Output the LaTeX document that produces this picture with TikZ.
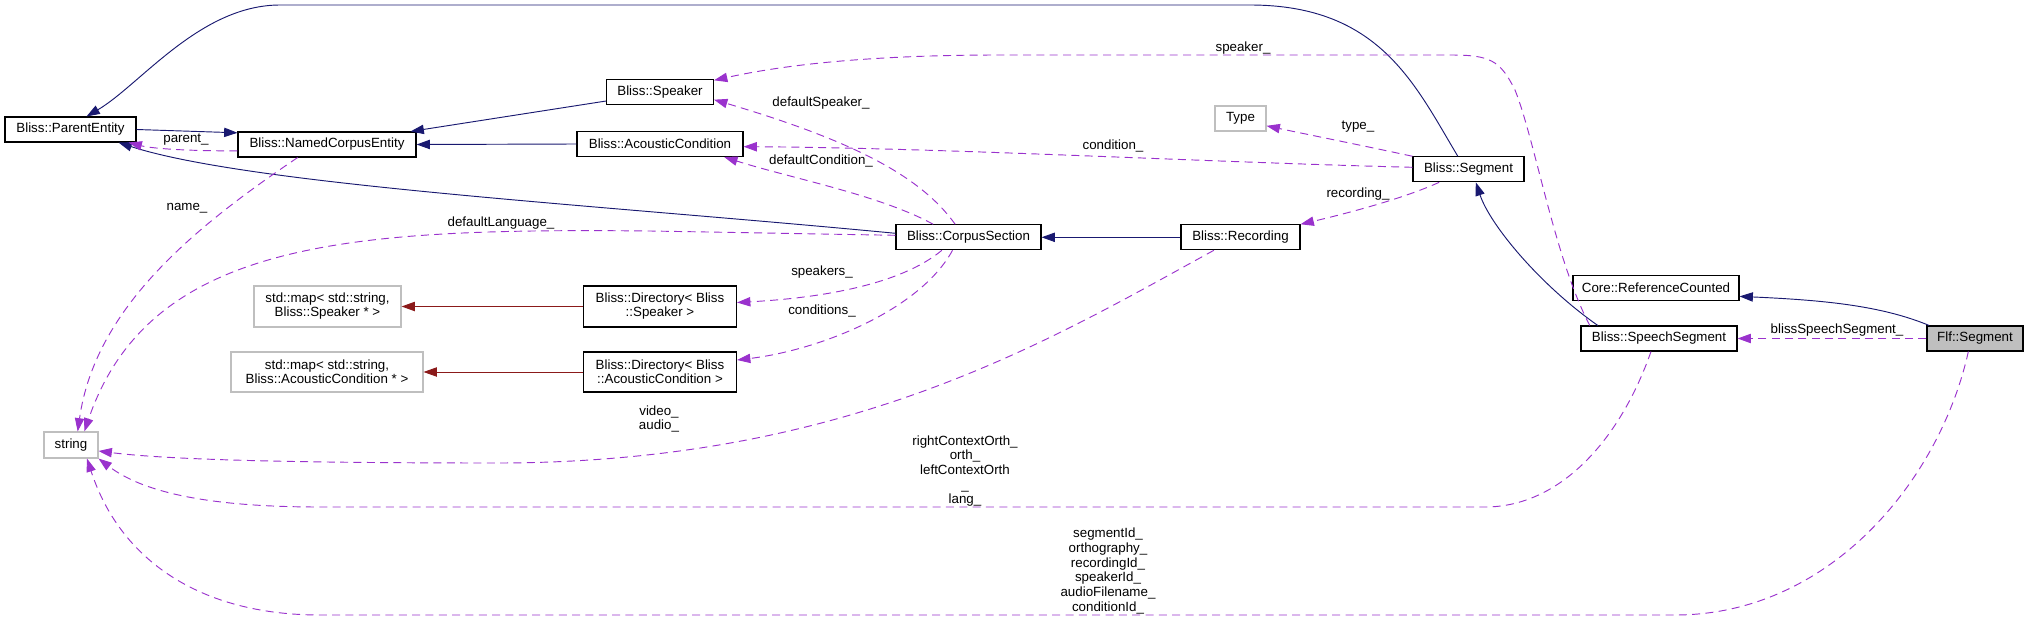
\documentclass[tikz,border=0pt]{standalone}
\usepackage{fontspec}
\setmainfont{Liberation Sans}
\usetikzlibrary{arrows.meta,calc}
\definecolor{inhblue}{HTML}{191970}
\definecolor{usepurple}{HTML}{9A32CD}
\definecolor{tmplred}{HTML}{8B1A1A}
\definecolor{undocgray}{HTML}{BFBFBF}

\begin{document}
\begin{tikzpicture}[x=0.75pt,y=-0.75pt,font=\fontsize{10}{10.5}\selectfont]
\tikzstyle{cls}=[draw=black,fill=white,line width=0.8pt,inner sep=0pt,minimum height=18.75pt,align=center]
\tikzstyle{ext}=[cls,draw=undocgray]
\tikzstyle{inh}=[draw=inhblue,line width=0.7pt,-{Triangle[length=10pt,width=7pt]}]
\tikzstyle{tmpl}=[draw=tmplred,line width=0.7pt,-{Triangle[length=10pt,width=7pt]}]
\tikzstyle{uses}=[draw=usepurple,line width=0.7pt,dash pattern=on 6pt off 4pt,-{Triangle[length=10pt,width=7pt]}]
\tikzstyle{lbl}=[inner sep=0pt,align=center,font=\fontsize{10}{11}\selectfont]
\useasboundingbox (0,0) rectangle (2025,621);

\node[cls,minimum width=98.25pt] (ParentEntity) at (70.5,129.5) {Bliss::ParentEntity};
\node[cls,minimum width=133.5pt] (NamedCorpusEntity) at (327,144.5) {Bliss::NamedCorpusEntity};
\node[cls,minimum width=80.25pt] (Speaker) at (660,92) {Bliss::Speaker};
\node[cls,minimum width=124.5pt] (AcousticCondition) at (660,144) {Bliss::AcousticCondition};
\node[cls,minimum width=108.75pt] (CorpusSection) at (968.5,237.3) {Bliss::CorpusSection};
\node[cls,minimum width=89.25pt] (Recording) at (1240.5,237.3) {Bliss::Recording};
\node[cls,minimum width=83.25pt] (Segment) at (1468.5,169.3) {Bliss::Segment};
\node[ext,minimum width=38.25pt] (Type) at (1240.5,118.5) {Type};
\node[cls,minimum width=124.5pt] (RefCounted) at (1656,288) {Core::ReferenceCounted};
\node[cls,minimum width=117pt] (SpeechSegment) at (1659,338.5) {Bliss::SpeechSegment};
\node[cls,fill=undocgray,minimum width=72pt] (FlfSegment) at (1975,338.5) {Flf::Segment};
\node[ext,minimum width=110.25pt,minimum height=30.75pt] (mapSpk) at (327.5,306.5) {std::map< std::string,\\ Bliss::Speaker * >};
\node[ext,minimum width=144pt,minimum height=30pt] (mapAC) at (327,372) {std::map< std::string,\\ Bliss::AcousticCondition * >};
\node[cls,minimum width=114.75pt,minimum height=30.75pt] (dirSpk) at (660,306.5) {Bliss::Directory< Bliss\\::Speaker >};
\node[cls,minimum width=114.75pt,minimum height=30pt] (dirAC) at (660,372) {Bliss::Directory< Bliss\\::AcousticCondition >};
\node[ext,minimum width=40.5pt,minimum height=19.5pt] (string) at (71,445) {string};

% inheritance
\draw[inh] (ParentEntity.east) -- ([yshift=-1pt]NamedCorpusEntity.north west);
\draw[inh] ([yshift=3pt]Speaker.south west) -- ([xshift=-4.5pt]NamedCorpusEntity.north east);
\draw[inh] (AcousticCondition.west) -- (NamedCorpusEntity.east);
\draw[inh] ([yshift=3pt]CorpusSection.west) .. controls (600,205) and (250,185) .. ([xshift=-13.5pt]ParentEntity.south east);
\draw[inh] (Recording.west) -- (CorpusSection.east);
\draw[inh] ([xshift=-8pt]Segment.north) .. controls (1415,85) and (1380,5) .. (1250,5) -- (280,5) .. controls (200,5) and (140,85) .. ([xshift=12pt]ParentEntity.north);
\draw[inh] ([xshift=13pt]SpeechSegment.north west) .. controls (1540,285) and (1490,225) .. ([xshift=5.5pt]Segment.south);
\draw[inh] ([xshift=2pt]FlfSegment.north west) .. controls (1880,305) and (1820,300) .. ([yshift=3.5pt]RefCounted.south east);

% templates
\draw[tmpl] (dirSpk.west) -- (mapSpk.east);
\draw[tmpl] (dirAC.west) -- (mapAC.east);

% members
\draw[uses] ([yshift=5pt]NamedCorpusEntity.south west) .. controls (180,151) and (150,148) .. ([xshift=-6pt]ParentEntity.south east);
\draw[uses] ([xshift=-22pt]NamedCorpusEntity.south) .. controls (190,230) and (95,310) .. ([xshift=5pt]string.north);
\draw[uses] ([yshift=1.5pt]CorpusSection.west) -- (650,231) .. controls (350,228) and (150,240) .. ([xshift=10pt]string.north);
\draw[uses] ([xshift=-20pt]Recording.south) .. controls (1050,340) and (850,462) .. (500,463) .. controls (300,463) and (170,460) .. ([yshift=-4.5pt]string.east);
\draw[uses] ([xshift=-6pt]SpeechSegment.south) .. controls (1620,440) and (1560,507) .. (1485,507) -- (320,507) .. controls (200,507) and (140,490) .. (string.south east);
\draw[uses] ([xshift=-5pt]FlfSegment.south) .. controls (1940,480) and (1830,615) .. (1675,615) -- (320,615) .. controls (200,615) and (120,560) .. ([xshift=12pt]string.south);
\draw[uses] ([xshift=7pt]SpeechSegment.north west) .. controls (1555,260) and (1535,140) .. (1515,90) .. controls (1500,60) and (1490,55) .. (1450,55) -- (1000,55) .. controls (850,55) and (770,68) .. ([yshift=-1pt]Speaker.north east);
\draw[uses] ([xshift=-10pt]CorpusSection.north) .. controls (920,175) and (850,140) .. ([yshift=4pt]Speaker.south east);
\draw[uses] ([xshift=-26.5pt]CorpusSection.north) .. controls (880,195) and (790,178) .. ([xshift=-14.5pt]AcousticCondition.south east);
\draw[uses] ([yshift=1.5pt]Segment.west) .. controls (1200,162) and (950,148) .. ([yshift=-2pt]AcousticCondition.east);
\draw[uses] (Segment.north west) .. controls (1360,145) and (1310,135) .. ([yshift=-5.5pt]Type.east);
\draw[uses] ([xshift=20pt]Segment.south west) .. controls (1400,200) and (1340,215) .. (Recording.north east);
\draw[uses] ([xshift=-20pt]CorpusSection.south) .. controls (900,285) and (820,298) .. ([yshift=3pt]dirSpk.east);
\draw[uses] ([xshift=-12pt]CorpusSection.south) .. controls (920,310) and (820,350) .. ([yshift=9pt]dirAC.east);
\draw[uses] (FlfSegment.west) -- (SpeechSegment.east);

\node[lbl] (lparent) at (186,140) {parent\_};
\node[lbl] (lname) at (187,208) {name\_};
\node[lbl] (llang) at (501,223) {defaultLanguage\_};
\node[lbl] (ldefspk) at (821,103) {defaultSpeaker\_};
\node[lbl] (ldefcond) at (821,161) {defaultCondition\_};
\node[lbl] (lcond) at (1113,146) {condition\_};
\node[lbl] (ltype) at (1358,127) {type\_};
\node[lbl] (lrec) at (1358,194) {recording\_};
\node[lbl] (lspk) at (1243,48) {speaker\_};
\node[lbl] (lspks) at (822,272) {speakers\_};
\node[lbl] (lconds) at (822,311) {conditions\_};
\node[lbl] (lmedia) at (659,419) {video\_\\audio\_};
\node[lbl] (lorth) at (965,471) {rightContextOrth\_\\orth\_\\leftContextOrth\\\_\\lang\_};
\node[lbl] (lids) at (1108,571) {segmentId\_\\orthography\_\\recordingId\_\\speakerId\_\\audioFilename\_\\conditionId\_};
\node[lbl] (lbss) at (1837,330) {blissSpeechSegment\_};
\end{tikzpicture}
\end{document}
